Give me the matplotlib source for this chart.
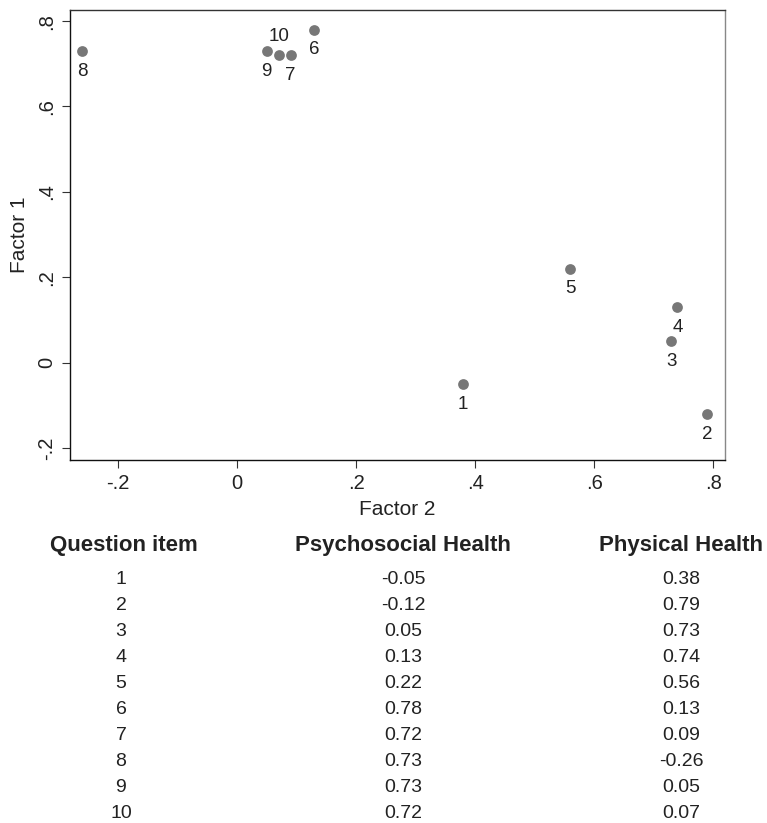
import matplotlib
matplotlib.use("Agg")
import matplotlib.pyplot as plt

plt.rcParams["font.family"] = ["Liberation Sans", "DejaVu Sans"]

items = ["1", "2", "3", "4", "5", "6", "7", "8", "9", "10"]
psychosocial = [-0.05, -0.12, 0.05, 0.13, 0.22, 0.78, 0.72, 0.73, 0.73, 0.72]
physical = [0.38, 0.79, 0.73, 0.74, 0.56, 0.13, 0.09, -0.26, 0.05, 0.07]
headers = ["Question item", "Psychosocial Health", "Physical Health"]
xticks = [-0.2, 0, 0.2, 0.4, 0.6, 0.8]
xtick_labels = ["-.2", "0", ".2", ".4", ".6", ".8"]
yticks = [-0.2, 0, 0.2, 0.4, 0.6, 0.8]
ytick_labels = ["-.2", "0", ".2", ".4", ".6", ".8"]
labels_above = ["10"]

W, H = 767, 823
fig = plt.figure(figsize=(W / 100, H / 100), dpi=100)
ax = fig.add_axes([70 / W, 1 - 460 / H, 655 / W, 450 / H])

ax.scatter(physical, psychosocial, s=60, color="#777777", zorder=3, linewidths=0)
for lab, x, y in zip(items, physical, psychosocial):
    dy = 13.5 if lab in labels_above else -14.5
    ax.annotate(lab, (x, y), xytext=(0, dy), textcoords="offset points",
                ha="center", va="center", fontsize=13.5, color="#222222")

ax.set_xlim(-0.2807, 0.820)
ax.set_ylim(-0.228, 0.826)
ax.set_xticks(xticks, xtick_labels)
ax.set_yticks(yticks, ytick_labels)
ax.tick_params(axis="both", length=6, width=0.8, color="#333333",
               labelsize=14.5, labelcolor="#222222", pad=4)
for t in ax.get_yticklabels():
    t.set_rotation(90)
    t.set_va("center")
ax.set_xlabel("Factor 2", fontsize=15, color="#222222", labelpad=5)
ax.set_ylabel("Factor 1", fontsize=15, color="#222222", labelpad=6)

ax.spines["left"].set_color("#111111")
ax.spines["bottom"].set_color("#111111")
ax.spines["top"].set_color("#333333")
ax.spines["right"].set_color("#888888")
for s in ax.spines.values():
    s.set_linewidth(1.0)

# table under the plot
col_x = [124, 403, 681]
fig_y = lambda px: 1 - px / H
for cx, h in zip(col_x, headers):
    fig.text(cx / W, fig_y(545), h, ha="center", va="center",
             fontsize=16, fontweight="bold", color="#222222")
for i, (it, ps, ph) in enumerate(zip(items, psychosocial, physical)):
    y = fig_y(580 + 25.9 * i)
    fig.text(121 / W, y, it, ha="center", va="center", fontsize=14, color="#222222")
    fig.text(col_x[1] / W, y, f"{ps:.2f}", ha="center", va="center", fontsize=14, color="#222222")
    fig.text(col_x[2] / W, y, f"{ph:.2f}", ha="center", va="center", fontsize=14, color="#222222")

fig.savefig("out.png", dpi=100, facecolor="white")
plt.close(fig)
